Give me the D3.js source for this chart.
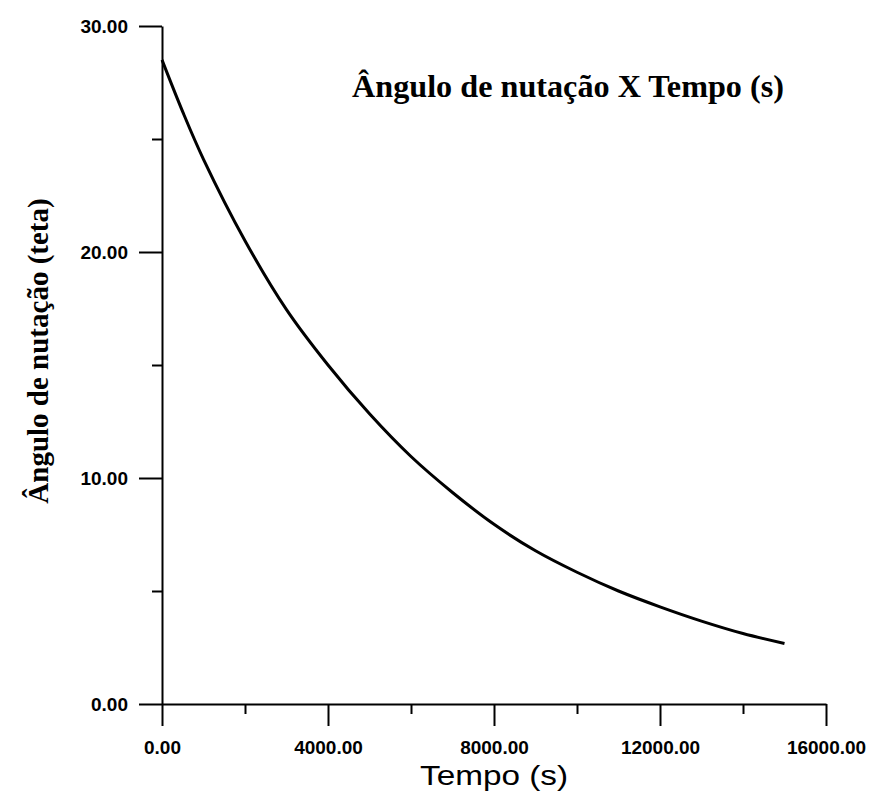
<!DOCTYPE html>
<html>
<head>
<meta charset="utf-8">
<script src="https://cdn.jsdelivr.net/npm/d3@7"></script>
<style>
  body { margin: 0; background: #fff; }
  svg { display: block; }
  .tick text { font-family: "Liberation Sans", Arial, sans-serif; font-weight: bold; font-size: 19px; fill: #000; }
  .domain, .tick line { stroke: #000; stroke-width: 2; }
</style>
</head>
<body>
<div id="root"></div>
<script>
// tempo (s) e ângulo de nutação
const tempo = [0, 500, 1000, 2000, 3000, 4000, 5000, 6000, 7000, 8000, 9000, 10000, 11000, 12000, 13000, 14000, 15000];
const teta = [28.5, 26.2, 24.1, 20.5, 17.45, 15.0, 12.84, 10.95, 9.36, 7.95, 6.78, 5.83, 5.0, 4.3, 3.67, 3.12, 2.68];
const xMajor = [0, 4000, 8000, 12000, 16000];
const xMinor = [2000, 6000, 10000, 14000];
const yMajor = [0, 10, 20, 30];
const yMinor = [5, 15, 25];

const width = 870,
    height = 794;

const svg = d3.select("#root").append("svg")
    .attr("width", width)
    .attr("height", height);

const x = d3.scaleLinear().domain([0, 16000]).range([162, 826]);
const y = d3.scaleLinear().domain([0, 30]).range([704, 26]);
const fmt = d3.format(".2f");

// eixo x
svg.append("g")
    .attr("transform", "translate(0," + y(0) + ")")
    .call(d3.axisBottom(x).tickValues(xMajor).tickSize(22).tickSizeOuter(0).tickPadding(15).tickFormat(fmt));
svg.append("g")
    .attr("transform", "translate(0," + y(0) + ")")
    .call(d3.axisBottom(x).tickValues(xMinor).tickSize(10).tickFormat(""))
    .select(".domain").remove();

// eixo y
svg.append("g")
    .attr("transform", "translate(" + x(0) + ",0)")
    .call(d3.axisLeft(y).tickValues(yMajor).tickSize(23).tickSizeOuter(0).tickPadding(11).tickFormat(fmt));
svg.append("g")
    .attr("transform", "translate(" + x(0) + ",0)")
    .call(d3.axisLeft(y).tickValues(yMinor).tickSize(10).tickFormat(""))
    .select(".domain").remove();

// curva
const line = d3.line()
    .x(function (d, i) { return x(tempo[i]); })
    .y(function (d) { return y(d); })
    .curve(d3.curveCatmullRom.alpha(0.5));

svg.append("path")
    .datum(teta)
    .attr("fill", "none")
    .attr("stroke", "#000")
    .attr("stroke-width", 3)
    .attr("d", line);

// títulos
svg.append("text")
    .attr("x", 352)
    .attr("y", 97)
    .attr("textLength", 432)
    .attr("lengthAdjust", "spacingAndGlyphs")
    .style("font-family", "'Liberation Serif', 'Times New Roman', serif")
    .style("font-weight", "bold")
    .style("font-size", "31px")
    .text("Ângulo de nutação X Tempo (s)");

svg.append("text")
    .attr("x", 420)
    .attr("y", 785)
    .attr("textLength", 148)
    .attr("lengthAdjust", "spacingAndGlyphs")
    .style("font-family", "'Liberation Sans', Arial, sans-serif")
    .style("font-size", "28px")
    .text("Tempo (s)");

svg.append("text")
    .attr("transform", "translate(48,351) rotate(-90)")
    .style("text-anchor", "middle")
    .style("font-family", "'Liberation Serif', 'Times New Roman', serif")
    .style("font-weight", "bold")
    .style("font-size", "29px")
    .text("Ângulo de nutação (teta)");
</script>
</body>
</html>
